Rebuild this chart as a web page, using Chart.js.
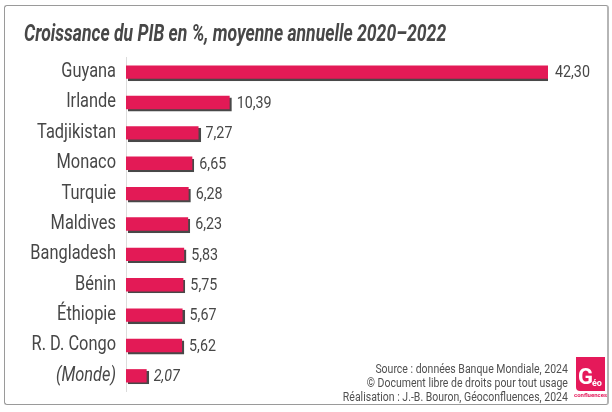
<!DOCTYPE html>
<html>
<head>
<meta charset="utf-8">
<script src="https://cdn.jsdelivr.net/npm/chart.js@4.4.0/dist/chart.umd.min.js"></script>
<style>
  html, body { margin: 0; padding: 0; background: #fff; }
  #wrap { position: relative; width: 612px; height: 412px; overflow: hidden; }
  #frame { position: absolute; left: 4px; top: 5px; width: 602px; height: 398px;
           border: 1.5px solid #9a9a9a; border-right: 2.5px solid #b5b5b5; border-radius: 3px; }
  #title { position: absolute; left: 24px; top: 21px; white-space: nowrap;
           font-family: Roboto, sans-serif;
           font-weight: bold; font-style: italic; font-size: 23px; line-height: 26px; color: #474747;
           transform-origin: 0 0; }
  #source { position: absolute; right: 44px; top: 362px; text-align: right;
            font-family: Roboto, sans-serif;
            font-size: 12.5px; line-height: 14px; color: #505050; white-space: nowrap;
            transform-origin: 100% 0; }
  #logo { position: absolute; left: 576px; top: 357px; width: 30px; height: 44px; }
  #logo .box { position: absolute; left: 0; top: 0; width: 29px; height: 34px; background: #e5195a; border-radius: 0 0 0 4px; }
  #logo .g { position: absolute; left: 2px; top: 9px; color: #fff; font-family: Roboto, sans-serif;
             font-weight: bold; font-size: 22px; line-height: 22px; }
  #logo .eo { position: absolute; left: 16px; top: 21px; color: #fff; font-family: Roboto, sans-serif;
              font-weight: bold; font-size: 9px; line-height: 10px; }
  #logo .conf { position: absolute; left: -2px; top: 34px; color: #e5195a; font-family: Roboto, sans-serif;
                font-size: 6px; line-height: 7px; font-weight: bold; }
  canvas { position: absolute; left: 0; top: 0; }
</style>
</head>
<body>
<div id="wrap">
  <div id="frame"></div>
  <canvas id="c" width="612" height="412"></canvas>
  <div id="title">Croissance du PIB en %, moyenne annuelle 2020–2022</div>
  <div id="source">Source : données Banque Mondiale, 2024<br>© Document libre de droits pour tout usage<br>Réalisation : J.-B. Bouron, Géoconfluences, 2024</div>
  <div id="logo"><div class="box"></div><div class="g">G</div><div class="eo">éo</div><div class="conf">confluences</div></div>
</div>
<script>
const countries = ["Guyana", "Irlande", "Tadjikistan", "Monaco", "Turquie", "Maldives", "Bangladesh", "Bénin", "Éthiopie", "R. D. Congo", "(Monde)"];
const growth = [42.30, 10.39, 7.27, 6.65, 6.28, 6.23, 5.83, 5.75, 5.67, 5.62, 2.07];
const xMax = 42.3;

const FONT = "Roboto, sans-serif";
const SX = 0.84; // horizontal condensation

// condense HTML title/source to match reference widths
(function () {
  const t = document.getElementById('title');
  t.style.transform = 'scaleX(' + (422 / t.scrollWidth) + ')';
  const s = document.getElementById('source');
  s.style.transform = 'scaleX(' + SX + ')';
})();

function condensedText(ctx, txt, x, y, align) {
  ctx.save();
  ctx.translate(x, y);
  ctx.scale(SX, 1);
  ctx.textAlign = align;
  ctx.fillText(txt, 0, 0);
  ctx.restore();
}

const labelPlugin = {
  id: 'labels',
  beforeDatasetsDraw(chart) {
    const ctx = chart.ctx;
    ctx.save();
    ctx.shadowColor = 'rgba(40,40,40,0.85)';
    ctx.shadowOffsetX = 2;
    ctx.shadowOffsetY = 2;
    ctx.shadowBlur = 0.5;
  },
  afterDatasetsDraw(chart) {
    const ctx = chart.ctx;
    ctx.restore();
    const meta = chart.getDatasetMeta(0);
    const yScale = chart.scales.y;
    ctx.save();
    ctx.fillStyle = '#474747';
    ctx.textBaseline = 'middle';
    meta.data.forEach((bar, i) => {
      const italic = countries[i].startsWith('(');
      // value label
      ctx.font = (italic ? 'italic ' : '') + '17px ' + FONT;
      const txt = growth[i].toFixed(2).replace('.', ',');
      condensedText(ctx, txt, bar.x + 7, bar.y + 1, 'left');
      // category label
      ctx.font = (italic ? 'italic ' : '') + '19.5px ' + FONT;
      condensedText(ctx, countries[i], yScale.right - 10, yScale.getPixelForTick(i), 'right');
    });
    ctx.restore();
  }
};

new Chart(document.getElementById('c'), {
  type: 'bar',
  data: {
    labels: countries,
    datasets: [{
      data: growth,
      backgroundColor: '#e31a56',
      borderWidth: 0,
      barPercentage: 0.44,
      categoryPercentage: 1.0
    }]
  },
  options: {
    indexAxis: 'y',
    responsive: false,
    animation: false,
    devicePixelRatio: 1,
    layout: { padding: { top: 57, bottom: 21, left: 0, right: 64 } },
    plugins: { legend: { display: false }, tooltip: { enabled: false }, title: { display: false } },
    scales: {
      x: { min: 0, max: xMax, display: false },
      y: {
        afterFit(scale) { scale.width = 126; },
        grid: { display: false },
        border: { display: true, color: '#dcdcdc', width: 1 },
        ticks: { display: false }
      }
    }
  },
  plugins: [labelPlugin]
});
</script>
</body>
</html>
